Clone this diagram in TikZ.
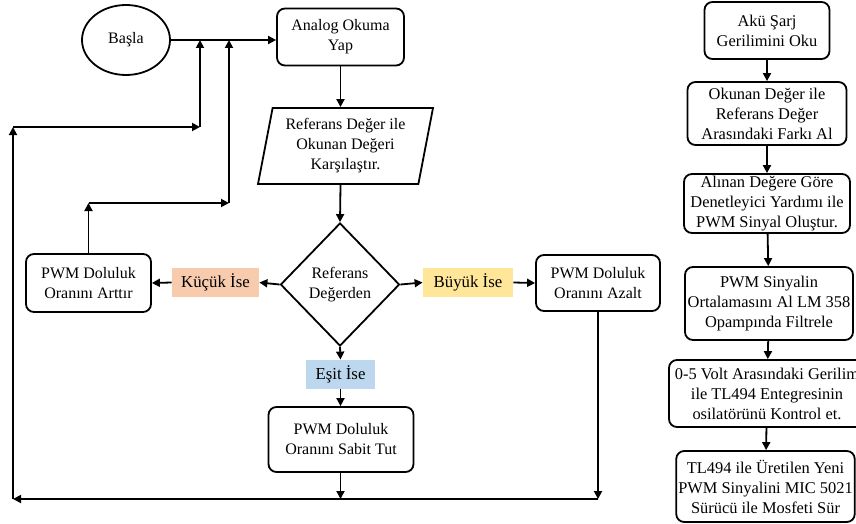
\documentclass[tikz,border=0pt]{standalone}
\usepackage{fontspec}
\setmainfont{Liberation Serif}
\usetikzlibrary{shapes.geometric,arrows.meta}
\definecolor{kucukfill}{HTML}{F8CBAD}
\definecolor{buyukfill}{HTML}{FFE699}
\definecolor{esitfill}{HTML}{BDD7EE}
\begin{document}
\begin{tikzpicture}[x=0.5pt,y=-0.5pt,
    font=\fontsize{8}{10}\selectfont,
    procbox/.style={draw,line width=0.9pt,rounded corners=4pt,align=center,inner sep=1pt},
    sidebox/.style={procbox,font=\fontsize{8.2}{10}\selectfont},
    tagbox/.style={inner sep=0pt,minimum height=14.5pt,font=\fontsize{8.4}{10}\selectfont},
    arr/.style={line width=0.9pt,-{Triangle[length=4pt,width=4pt]}}]
      \useasboundingbox (0,0) rectangle (856,524);
      \draw
        (126,40) node[draw,line width=0.9pt,ellipse,minimum width=44pt,minimum height=35pt,inner sep=0pt] (basla){Başla}
        (340.5,37) node[procbox,minimum width=63.5pt,minimum height=28.5pt] (analog){Analog Okuma\\Yap}
        (345.5,146) node[draw,line width=0.9pt,trapezium,trapezium left angle=76,trapezium right angle=104,
          trapezium stretches body,minimum width=87.5pt,minimum height=38pt,align=center,inner sep=1pt] (karsi){Referans Değer ile\\Okunan Değeri\\Karşılaştır.}
        (340,284.5) node[draw,line width=0.9pt,diamond,minimum width=59.5pt,minimum height=61.5pt,inner sep=0pt,align=center] (karar){Referans\\Değerden}
        (215.5,282.5) node[tagbox,fill=kucukfill,minimum width=43.5pt] (kucuk){Küçük İse}
        (468,282.5) node[tagbox,fill=buyukfill,minimum width=45pt] (buyuk){Büyük İse}
        (340.5,374.5) node[tagbox,fill=esitfill,minimum width=34.5pt] (esit){Eşit İse}
        (88.5,283) node[procbox,minimum width=62.5pt,minimum height=29pt] (arttir){PWM Doluluk\\Oranını Arttır}
        (598,283) node[procbox,minimum width=62pt,minimum height=28pt] (azalt){PWM Doluluk\\Oranını Azalt}
        (341,439.5) node[procbox,minimum width=72.5pt,minimum height=32.5pt] (sabit){PWM Doluluk\\Oranını Sabit Tut}
        (767,30.5) node[sidebox,minimum width=62.5pt,minimum height=28.5pt] (aku){Akü Şarj\\Gerilimini Oku}
        (767,113.5) node[sidebox,minimum width=79.5pt,minimum height=31.5pt] (fark){Okunan Değer ile\\Referans Değer\\Arasındaki Farkı Al}
        (767,203.5) node[sidebox,minimum width=83pt,minimum height=29.5pt] (olustur){Alınan Değere Göre\\Denetleyici Yardımı ile\\PWM Sinyal Oluştur.}
        (769,303.5) node[sidebox,minimum width=84pt,minimum height=36.5pt] (filtre){PWM Sinyalin\\Ortalamasını Al LM 358\\Opampında Filtrele}
        (767,393.5) node[sidebox,minimum width=98pt,minimum height=33.5pt] (kontrol){0-5 Volt Arasındaki Gerilim\\ile TL494 Entegresinin\\osilatörünü Kontrol et.}
        (765.5,486.5) node[sidebox,minimum width=88.5pt,minimum height=35.5pt] (sur){TL494 ile Üretilen Yeni\\PWM Sinyalini MIC 5021\\Sürücü ile Mosfeti Sür};
      \coordinate (j1) at (200,40);
      \coordinate (j2) at (229,40);
      \coordinate (a2) at (229,203);
      \coordinate (bL) at (13,499);
      \coordinate (tL) at (13,127);
      \begin{scope}[arr]
        \draw (basla.east) to (basla.east -| analog.west);
        \draw (analog.south) to (analog.south |- karsi.north);
        \draw (analog.south |- karsi.south) to (karar.north);
        \draw (karar.west) to (kucuk.east);
        \draw (kucuk.west) to (arttir.east);
        \draw (karar.east) to (buyuk.west);
        \draw (buyuk.east) to (azalt.west);
        \draw (karar.south) to (esit.north);
        \draw (esit.south) to (esit.south |- sabit.north);
        \draw (arttir.north) to (arttir.north |- a2);
        \draw (arttir.north |- a2) to (a2);
        \draw (a2) to (j2);
        \draw (azalt.south) to (azalt.south |- bL);
        \draw (esit.south |- sabit.south) to (esit.south |- bL);
        \draw (azalt.south |- bL) to (bL);
        \draw (bL) to (tL);
        \draw (tL) to (tL -| j1);
        \draw (tL -| j1) to (j1);
        \draw (aku) to (fark);
        \draw (fark) to (olustur);
        \draw (olustur) to (filtre);
        \draw (filtre) to (kontrol);
        \draw (kontrol) to (sur);
      \end{scope}
    \end{tikzpicture}
\end{document}
